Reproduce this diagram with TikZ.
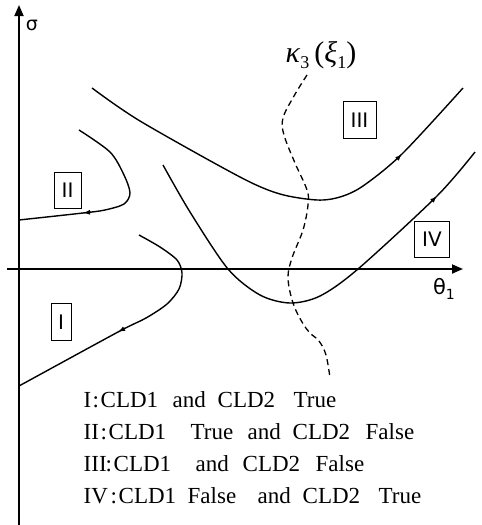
\documentclass[tikz,border=0pt]{standalone}
\usepackage{fontspec}
\usepackage{graphicx}
\usetikzlibrary{arrows.meta}
\newfontfamily\legendfont{Liberation Serif}
\newfontfamily\grsans{DejaVu Sans}
\newcommand{\placeat}[2]{\makebox[0pt][l]{\hspace*{#1pt}#2}}
\begin{document}
\begin{tikzpicture}[x=1pt,y=-1pt,
  axis/.style={line width=1.8pt,-{Triangle[length=11pt,width=9pt]}},
  curve/.style={line width=1.4pt},
  flowtip/.style={line width=1.4pt,-{Latex[length=7pt,width=5pt]}},
  region/.style={draw,line width=0.9pt,inner sep=0pt,font=\grsans\fontsize{20}{20}\selectfont},
  legend/.style={anchor=base west,inner sep=0pt,font=\legendfont\fontsize{23}{23}\selectfont},
  bound/.style={line width=1.3pt,dash pattern=on 6pt off 4pt}]

\useasboundingbox (0,0) rectangle (482,525);

% axes
\coordinate (ybot) at (19,525);
\coordinate (ytop) at (19,5);
\coordinate (xleft) at (7,269);
\coordinate (xright) at (463,269);
\draw[axis] (ybot) -- (ytop);
\draw[axis] (xleft) -- (xright);
\node[font=\grsans\fontsize{19}{19}\selectfont] (sigma) at (32,25) {σ};
\node[font=\grsans\fontsize{21}{21}\selectfont] (theta) at (444,289) {θ\raisebox{-5pt}{\fontsize{14}{14}\selectfont 1}};

% curve III
\draw[curve] plot[smooth] coordinates {(92,88) (140,121) (240,177) (280,194) (317,200) (340,197) (363,186) (402,154) (463,88)};
\coordinate (a3s) at (396.3,159.7); \coordinate (a3e) at (402,154);
\draw[flowtip] (a3s) -- (a3e);
% curve IV
\draw[curve] plot[smooth] coordinates {(163,165) (190,212) (228,269) (260,295) (290,303) (320,296) (358,269) (437,196) (475,152)};
\coordinate (a4s) at (431.3,201.7); \coordinate (a4e) at (437,196);
\draw[flowtip] (a4s) -- (a4e);
% curve II
\draw[curve] plot[smooth] coordinates {(79,130) (110,152) (124,175) (130,193) (124,204) (105,210) (83,213) (19,220)};
\coordinate (a2s) at (91,212.2); \coordinate (a2e) at (83,213);
\draw[flowtip] (a2s) -- (a2e);
% curve I
\draw[curve] plot[smooth] coordinates {(139,235) (160,247) (177,260) (182,273) (179,289) (167,304) (146,318) (118,332) (19,386)};
\coordinate (a1s) at (125,328.2); \coordinate (a1e) at (118,332);
\draw[flowtip] (a1s) -- (a1e);

% boundary kappa
\draw[bound] plot[smooth,tension=0.6] coordinates {(307,75) (294,96) (283,118) (284,135) (295,163) (307,190) (308,205) (303,230) (292,258) (288,278) (293,303) (302,322) (310,333) (319,341) (326,355) (330,378)};
\node[inner sep=0pt,font=\legendfont\fontsize{30}{30}\selectfont] (kappa) at (321,55) {\textit{κ}\raisebox{-6pt}{\fontsize{18}{18}\selectfont 3}\,(\textit{ξ}\raisebox{-6pt}{\fontsize{18}{18}\selectfont 1})};

% region labels
\node[region,minimum width=20pt,minimum height=37pt] (r1) at (61,322) {I};
\node[region,minimum width=27pt,minimum height=36pt] (r2) at (67.5,190) {II};
\node[region,minimum width=33pt,minimum height=37pt] (r3) at (359.5,120) {III};
\node[region,minimum width=35pt,minimum height=36pt] (r4) at (432,239) {IV};

% legend
\node[legend] (l1) at (83,407) {\placeat{0}{I}\placeat{9}{:}\placeat{17}{CLD1}\placeat{89}{and}\placeat{134}{CLD2}\placeat{210}{True}};
\node[legend] (l2) at (83,439) {\placeat{0}{II}\placeat{17}{:}\placeat{25}{CLD1}\placeat{107}{True}\placeat{164}{and}\placeat{209}{CLD2}\placeat{282}{False}};
\node[legend] (l3) at (83,471) {\placeat{0}{III}\placeat{22}{:}\placeat{30}{CLD1}\placeat{112}{and}\placeat{159}{CLD2}\placeat{232}{False}};
\node[legend] (l4) at (83,503) {\placeat{0}{IV}\placeat{27}{:}\placeat{35}{CLD1}\placeat{104}{False}\placeat{174}{and}\placeat{219}{CLD2}\placeat{295}{True}};
\end{tikzpicture}
\end{document}
